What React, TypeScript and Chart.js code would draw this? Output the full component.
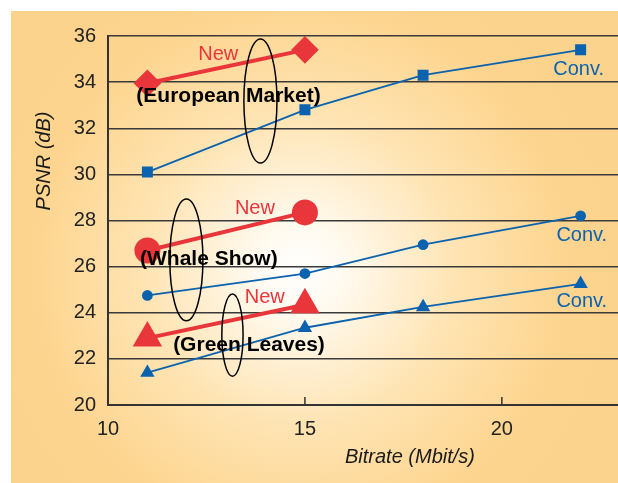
import React, { useEffect, useRef } from "react";
import { Chart, registerables } from "chart.js";

Chart.register(...registerables);

// Data
const bitrates = [11, 15, 18, 22];
const newBitrates = [11, 15];
const europeanConv = [30.1, 32.8, 34.3, 35.4];
const europeanNew = [33.95, 35.4];
const whaleConv = [24.75, 25.7, 26.95, 28.2];
const whaleNew = [26.7, 28.35];
const greenConv = [21.4, 23.35, 24.25, 25.25];
const greenNew = [22.9, 24.35];
const xTicks = [10, 15, 20];
const yTicks = [20, 22, 24, 26, 28, 30, 32, 34, 36];

// Annotations (data coordinates)
const groupLabels = ["(European Market)", "(Whale Show)", "(Green Leaves)"];
const groupLabelPos = [
  [13.06, 33.4],
  [12.56, 26.33],
  [13.58, 22.6],
];
const newLabelPos = [
  [12.8, 35.22],
  [13.73, 28.5],
  [13.98, 24.68],
];
const convLabelPos = [
  [21.95, 34.55],
  [22.03, 27.33],
  [22.03, 24.47],
];
// ellipse: center x, center y, radius x (units), radius y (units)
const ellipses = [
  [13.87, 33.18, 0.42, 2.69],
  [11.99, 26.29, 0.42, 2.64],
  [13.16, 23.03, 0.27, 1.78],
];

const RED = "#e8363b";
const BLUE = "#0b62ae";
const FONT = "'Liberation Sans', Arial, sans-serif";

function pts(xs: number[], ys: number[]) {
  return ys.map((y, i) => ({ x: xs[i], y }));
}

export default function App() {
  const ref = useRef<HTMLCanvasElement | null>(null);

  useEffect(() => {
    document.body.style.margin = "0";
    const canvas = ref.current!;
    const bgPlugin = {
      id: "bg",
      beforeDraw(chart: any) {
        const ctx = chart.ctx;
        ctx.save();
        ctx.fillStyle = "#ffffff";
        ctx.fillRect(0, 0, chart.width, chart.height);
        const g = ctx.createRadialGradient(300, 270, 0, 300, 270, 310);
        g.addColorStop(0, "#ffffff");
        g.addColorStop(0.12, "#fffbf3");
        g.addColorStop(0.5, "#fee4b3");
        g.addColorStop(0.85, "#fdd590");
        g.addColorStop(1, "#fcd38c");
        ctx.fillStyle = g;
        ctx.fillRect(11, 11, chart.width - 11, chart.height - 11);
        ctx.restore();
      },
    };
    const annPlugin = {
      id: "ann",
      afterDatasetsDraw(chart: any) {
        const ctx = chart.ctx;
        const xs = chart.scales.x;
        const ys = chart.scales.y;
        const ca = chart.chartArea;
        ctx.save();
        // inward x ticks
        ctx.strokeStyle = "#333";
        ctx.lineWidth = 1.5;
        xTicks.forEach((v) => {
          const px = xs.getPixelForValue(v);
          ctx.beginPath();
          ctx.moveTo(px, ca.bottom);
          ctx.lineTo(px, ca.bottom - 8);
          ctx.stroke();
        });
        // ellipses
        ctx.strokeStyle = "#000";
        ctx.lineWidth = 1.5;
        ellipses.forEach(([cx, cy, rx, ry]) => {
          const px = xs.getPixelForValue(cx);
          const py = ys.getPixelForValue(cy);
          const prx = Math.abs(xs.getPixelForValue(cx + rx) - px);
          const pry = Math.abs(ys.getPixelForValue(cy + ry) - py);
          ctx.beginPath();
          ctx.ellipse(px, py, prx, pry, 0, 0, Math.PI * 2);
          ctx.stroke();
        });
        ctx.textAlign = "center";
        ctx.textBaseline = "middle";
        ctx.font = `20px ${FONT}`;
        ctx.fillStyle = RED;
        newLabelPos.forEach(([x, y]) => {
          ctx.fillText("New", xs.getPixelForValue(x), ys.getPixelForValue(y));
        });
        ctx.fillStyle = BLUE;
        convLabelPos.forEach(([x, y]) => {
          ctx.fillText("Conv.", xs.getPixelForValue(x), ys.getPixelForValue(y));
        });
        ctx.font = `bold 21px ${FONT}`;
        ctx.fillStyle = "#000";
        groupLabels.forEach((t, i) => {
          const [x, y] = groupLabelPos[i];
          ctx.fillText(t, xs.getPixelForValue(x), ys.getPixelForValue(y));
        });
        // axis titles
        ctx.font = `italic 20px ${FONT}`;
        ctx.fillStyle = "#1a1a1a";
        ctx.fillText("Bitrate (Mbit/s)", 410, 457);
        ctx.translate(44, 161);
        ctx.rotate(-Math.PI / 2);
        ctx.fillText("PSNR (dB)", 0, 0);
        ctx.restore();
      },
    };

    const chart = new Chart(canvas, {
      type: "line",
      data: {
        datasets: [
          {
            data: pts(bitrates, europeanConv),
            borderColor: BLUE,
            backgroundColor: BLUE,
            borderWidth: 1.8,
            pointStyle: "rect",
            pointRadius: 6.5,
          },
          {
            data: pts(bitrates, whaleConv),
            borderColor: BLUE,
            backgroundColor: BLUE,
            borderWidth: 1.8,
            pointStyle: "circle",
            pointRadius: 4.5,
          },
          {
            data: pts(bitrates, greenConv),
            borderColor: BLUE,
            backgroundColor: BLUE,
            borderWidth: 1.8,
            pointStyle: "triangle",
            pointRadius: 6.5,
          },
          {
            data: pts(newBitrates, europeanNew),
            borderColor: RED,
            backgroundColor: RED,
            borderWidth: 4,
            pointStyle: "rectRot",
            pointRadius: 11,
          },
          {
            data: pts(newBitrates, whaleNew),
            borderColor: RED,
            backgroundColor: RED,
            borderWidth: 4,
            pointStyle: "circle",
            pointRadius: 11,
          },
          {
            data: pts(newBitrates, greenNew),
            borderColor: RED,
            backgroundColor: RED,
            borderWidth: 4,
            pointStyle: "triangle",
            pointRadius: 13,
          },
        ],
      },
      options: {
        responsive: false,
        animation: false,
        devicePixelRatio: 1,
        layout: { padding: { top: 36, right: 20, left: 0, bottom: 0 } },
        plugins: { legend: { display: false }, tooltip: { enabled: false } },
        elements: { point: { borderWidth: 0 }, line: { tension: 0 } },
        scales: {
          x: {
            type: "linear",
            min: 10,
            max: 23,
            afterBuildTicks: (s: any) => {
              s.ticks = xTicks.map((v) => ({ value: v }));
            },
            afterFit: (s: any) => {
              s.height = 78;
            },
            grid: { drawOnChartArea: false, drawTicks: false },
            border: { display: true, color: "#333", width: 2 },
            ticks: {
              padding: 12,
              color: "#222",
              font: { family: FONT, size: 20 },
              maxRotation: 0,
            },
          },
          y: {
            min: 20,
            max: 36,
            afterBuildTicks: (s: any) => {
              s.ticks = yTicks.map((v) => ({ value: v }));
            },
            afterFit: (s: any) => {
              s.width = 108;
            },
            grid: { color: "#3a3a3a", lineWidth: 1.5, drawTicks: false },
            border: { display: true, color: "#333", width: 2 },
            ticks: {
              padding: 12,
              color: "#222",
              font: { family: FONT, size: 20 },
            },
          },
        },
      },
      plugins: [bgPlugin, annPlugin],
    } as any);
    return () => chart.destroy();
  }, []);

  return (
    <div style={{ width: 618, height: 483, overflow: "hidden", position: "relative" }}>
      <canvas ref={ref} width={640} height={483} style={{ display: "block" }} />
    </div>
  );
}
